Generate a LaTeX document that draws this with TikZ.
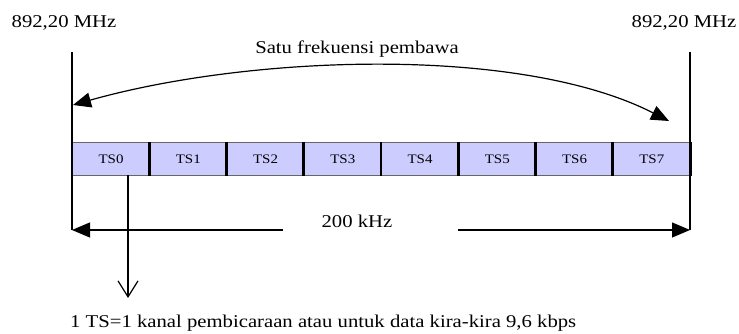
\documentclass[tikz,border=0pt]{standalone}
\usepackage{fontspec}
\setmainfont{Liberation Serif}[FakeStretch=1.15]
\usetikzlibrary{arrows.meta,calc}
\definecolor{tsfill}{HTML}{CCCCFF}
\begin{document}
\begin{tikzpicture}[x=1pt,y=-1pt,
  txt/.style={inner sep=0pt,font=\fontsize{18}{21}\selectfont},
  tsbox/.style={draw=black!60,line width=0.8pt,fill=tsfill,minimum width=77.25pt,minimum height=33pt,inner sep=0pt,anchor=north west,font=\fontsize{13}{14}\selectfont},
  sep/.style={line width=2.8pt},
  line/.style={line width=1.2pt},
  bigtip/.style={-{Triangle[length=18pt,width=15pt]}}
]
\useasboundingbox (0,0) rectangle (739,334);
% frequency labels
\node[txt] (fL) at (64,23) {892,20 MHz};
\node[txt] (fR) at (684,23) {892,20 MHz};
\node[txt] (carrier) at (357,49) {Satu frekuensi pembawa};
% vertical boundary lines
\coordinate (Ltop) at (72,52);
\coordinate (Lbot) at (72,230);
\coordinate (Rtop) at (690,52);
\coordinate (Rbot) at (690,230);
\draw[line] (Ltop) -- (Lbot);
\draw[line] (Rtop) -- (Rbot);
% carrier arc
\coordinate (arcR) at (669,121);
\coordinate (arcL) at (73,105);
\draw[line,{Triangle[length=18pt,width=15pt]}-{Triangle[length=18pt,width=15pt]}]
  (arcL) .. controls (250,55) and (520,45) .. (arcR);
% time slots
\foreach \i in {0,...,7}{
  \node[tsbox] (ts\i) at (72+77.25*\i,142) {TS\i};
}
\foreach \i in {0,...,7}{
  \draw[sep] (ts\i.north west) -- (ts\i.south west);
}
\draw[sep] (ts7.north east) -- (ts7.south east);
% 200 kHz
\node[txt] (bw) at (357,221) {200 kHz};
\coordinate (bwL) at (283,230);
\coordinate (bwR) at (458,230);
\draw[line,bigtip] (bwL) -- (Lbot);
\draw[line,bigtip] (bwR) -- (Rbot);
% TS explanation
\coordinate (dtop) at (128,175);
\node[txt,anchor=west] (note) at (70,323) {1 TS=1 kanal pembicaraan atau untuk data kira-kira 9,6 kbps};
\draw[line,-{Straight Barb[length=16pt,width=20pt]}] (dtop) -- (dtop |- 0,298);
\end{tikzpicture}
\end{document}
